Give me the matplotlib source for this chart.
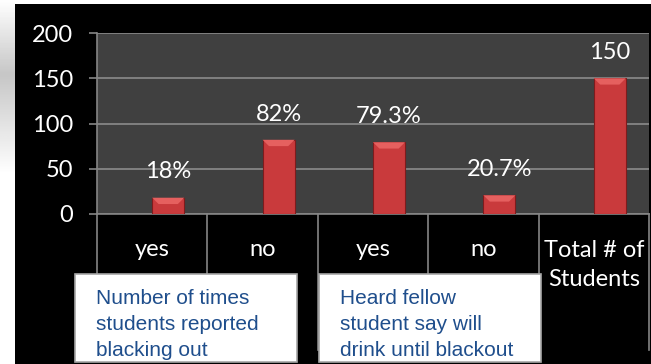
import numpy as np
import matplotlib
matplotlib.use("Agg")
import matplotlib.pyplot as plt
from matplotlib.patches import Rectangle

# ─── Data ─────────────────────────────────────────────────────────────────────

categories = ["yes", "no", "yes", "no", "Total # of\nStudents"]
red_values = [18, 82, 79.3, 20.7, 150]
blue_values = [0.5, 0, 0, 0, 0]
value_labels = ["18%", "82%", "79.3%", "20.7%", "150"]
group_notes = ["Number of times\nstudents reported\nblacking out",
               "Heard fellow\nstudent say will\ndrink until blackout"]
y_ticks = [0, 50, 100, 150, 200]

W, H = 651, 364


def fx(x):
    return x / W


def fy(y):
    return 1 - y / H


# ─── Figure ───────────────────────────────────────────────────────────────────

fig = plt.figure(figsize=(W / 100, H / 100), dpi=100)
fig.patch.set_facecolor("white")

# black slide background
fig.patches.append(Rectangle((fx(15), 0), 1 - fx(15), fy(4), transform=fig.transFigure,
                             facecolor="black", edgecolor="none", zorder=-2))

# soft grey strip on the left edge
strip = fig.add_axes([0, fy(175), fx(15), fy(0) - fy(175)])
shade = np.concatenate([np.linspace(1.0, 0.78, 45), np.linspace(0.78, 1.0, 60)])
strip.imshow(shade[:, None], cmap="gray", vmin=0, vmax=1, aspect="auto")
strip.axis("off")

ax = fig.add_axes([fx(97), fy(214), fx(649) - fx(97), fy(33) - fy(214)])
ax.set_zorder(2)
ax.set_facecolor("#404040")

x = np.arange(len(categories))
bw = 0.29
ax.bar(x - bw / 2, blue_values, bw, color="#4F81BD", zorder=3)
bars = ax.bar(x + bw / 2, red_values, bw, color="#C93A3C", edgecolor="#7E1B1C",
              linewidth=0.8, zorder=3)

# bevel highlight at the top of each bar
for b in bars:
    h = b.get_height()
    bx = b.get_x()
    top = min(h, 7)
    ax.fill([bx, bx + bw, bx + bw * 0.8, bx + bw * 0.2],
            [h, h, h - top, h - top], color="#E5605F", zorder=4, lw=0)

for xi, v, lab in zip(x, red_values, value_labels):
    ax.annotate(lab, (xi + bw / 2, v), xytext=(0, 11), textcoords="offset points",
                ha="center", va="bottom", color="white", fontsize=17, family="Lato")

ax.set_xlim(-0.5, len(categories) - 0.5)
ax.set_ylim(0, 200)
ax.set_yticks(y_ticks)
ax.yaxis.grid(True, color="#858585", linewidth=1.3, zorder=1)
ax.set_axisbelow(True)
ax.tick_params(axis="y", colors="#858585", length=6, width=1.2, pad=11,
               labelcolor="white", labelsize=17)
for t in ax.get_yticklabels():
    t.set_family("Lato")
ax.set_xticks([])
for side in ["top", "right"]:
    ax.spines[side].set_visible(False)
ax.spines["left"].set_color("#858585")
ax.spines["bottom"].set_color("#858585")
ax.spines["left"].set_linewidth(1.2)
ax.spines["bottom"].set_linewidth(1.2)

# category axis boxes below the plot
xt = ax.get_xaxis_transform()
y_low = (214 - 350) / (214 - 33)
for xs in np.arange(-0.5, len(categories), 1.0):
    ax.plot([xs, xs], [0, y_low], color="#858585", lw=1.2, transform=xt, clip_on=False)

for xi, cat in zip(x, categories):
    yc = (214 - 250) / (214 - 33) if "\n" not in cat else (214 - 265) / (214 - 33)
    ax.text(xi, yc, cat, transform=xt, ha="center", va="center", color="white",
            fontsize=17, family="Lato", linespacing=1.5)

# white note boxes
for left, note in zip([75, 319], group_notes):
    fig.patches.append(Rectangle((fx(left), fy(362)), fx(222), fy(274) - fy(362),
                                 transform=fig.transFigure, facecolor="white",
                                 edgecolor="#A6A6A6", linewidth=1.2, zorder=5))
    fig.text(fx(left + 21), fy(289), note, ha="left", va="top", color="#1F4E8C",
             fontsize=15, family="Liberation Sans", linespacing=1.45, zorder=6)

fig.savefig("out.png", dpi=100, facecolor=fig.get_facecolor())
